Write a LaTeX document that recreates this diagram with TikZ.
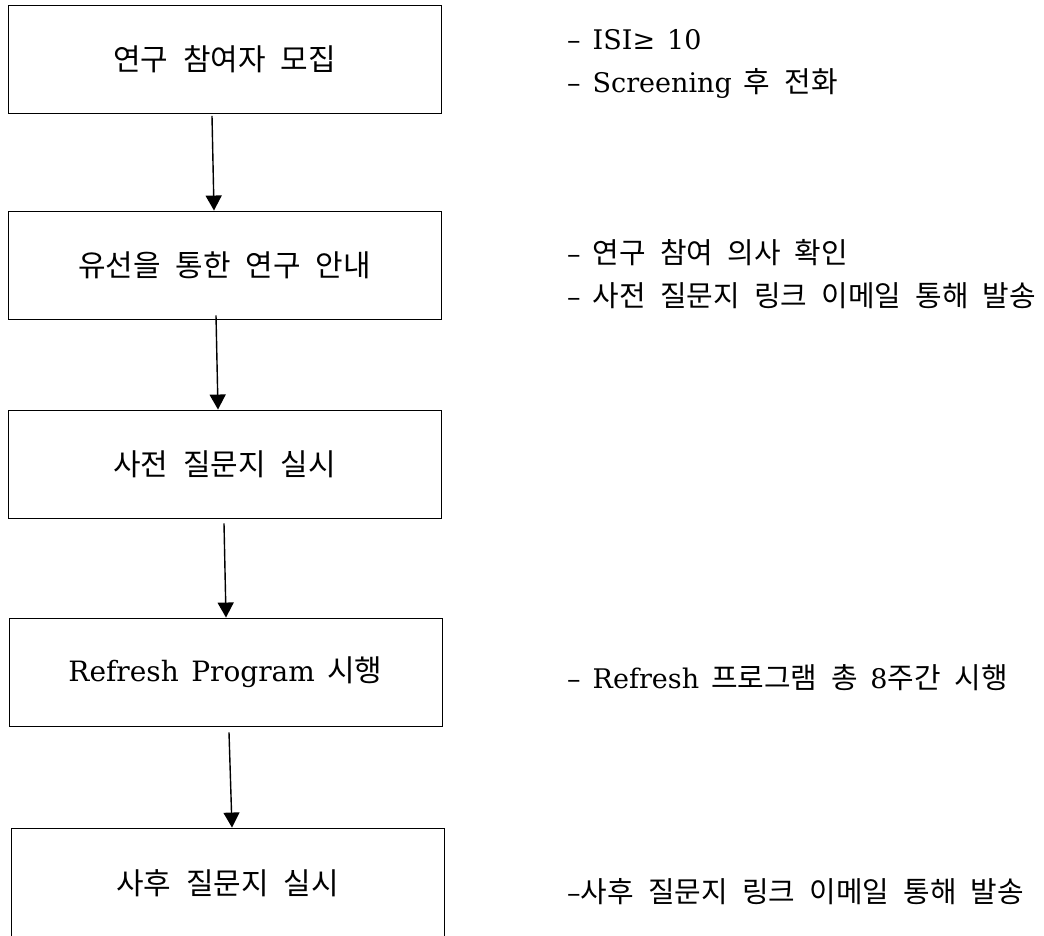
\documentclass[tikz,border=0pt]{standalone}
\usepackage{fontspec}
\setmainfont{DejaVu Serif}[WordSpace=1.4]
\newfontfamily\kr{Noto Sans CJK KR}[Scale=1.07, WordSpace=2.2]
\usetikzlibrary{arrows.meta, positioning}

\begin{document}
\begin{tikzpicture}[x=1pt, y=-1pt]
    % Block styles
    \tikzstyle{block} = [rectangle, draw, line width=0.9pt, minimum width=433pt, minimum height=108pt, inner sep=0pt, font=\fontsize{28}{34}\selectfont]
    \tikzstyle{note} = [anchor=west, align=left, inner sep=0pt, font=\fontsize{27}{43}\selectfont]
    \tikzstyle{flow} = [line width=1.4pt, -{Triangle[width=16pt,length=15pt]}]
    \useasboundingbox (0,0) rectangle (1044,936);
    \clip (0,0) rectangle (1044,936);
    % Steps
    \node[block] (recruit) at (224.5,59.5) {{\kr 연구 참여자 모집}};
    \node[block] (phone) at (224.5,265) {{\kr 유선을 통한 연구 안내}};
    \node[block] (pretest) at (224.5,464) {{\kr 사전 질문지 실시}};
    \node[block] (program) at (225.5,672) {Refresh Program {\kr 시행}};
    \node[block, minimum height=110pt] (posttest) at (227.5,883) {{\kr 사후 질문지 실시}};
    % Notes
    \node[note] (recruit_note) at (567,63.5) {– ISI≥ 10\\– Screening {\kr 후 전화}};
    \node[note] (phone_note) at (567,274) {– {\kr 연구 참여 의사 확인}\\– {\kr 사전 질문지 링크 이메일 통해 발송}};
    \node[note] (program_note) at (567,678) {– Refresh {\kr 프로그램 총} 8{\kr 주간 시행}};
    \node[note] (posttest_note) at (567,892) {–{\kr 사후 질문지 링크 이메일 통해 발송}};
    % Connections
    \draw[flow] ([shift={(-12.5,2)}]recruit.south) -- ([shift={(-10.5,0)}]phone.north);
    \draw[flow] ([shift={(-8.5,-4)}]phone.south) -- ([shift={(-6.5,0)}]pretest.north);
    \draw[flow] ([shift={(-0.5,5)}]pretest.south) -- ([shift={(0.5,0)}]program.north);
    \draw[flow] ([shift={(3.5,6)}]program.south) -- ([shift={(4.5,0)}]posttest.north);
\end{tikzpicture}
\end{document}
